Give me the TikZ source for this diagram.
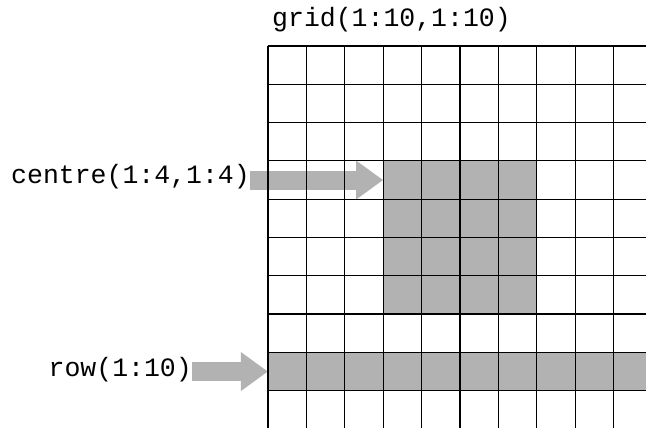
\documentclass[tikz,border=0pt]{standalone}
\usepackage{fontspec}
\usepackage{xcolor}
\usepackage{tikz}
\usetikzlibrary{arrows.meta}
\newfontfamily\codefont{Liberation Mono}
\definecolor{shadegray}{gray}{0.70}

\begin{document}
\begin{tikzpicture}[x=38.4bp,y=-38.3bp,
  gridline/.style={line width=1.2bp,black},
  cellfill/.style={fill=shadegray},
  codelabel/.style={inner sep=0pt,font=\codefont\fontsize{26.5bp}{30bp}\selectfont},
  blockarrow/.style={draw=shadegray,line width=19bp,-{Triangle[length=27bp,width=37bp]}}]
  \useasboundingbox (-6.979,-1.201) rectangle (9.844,9.974);
  % shaded selections
  \fill[cellfill] (3,3) rectangle (7,7);
  \fill[cellfill] (0,8) rectangle (9.844,9);
  % labels
  \node[codelabel,anchor=base] (gridLabel) at (3.216,-0.522) {grid(1:10,1:10)};
  \node[codelabel,anchor=base east] (centreLabel) at (-0.469,3.603) {centre(1:4,1:4)};
  \node[codelabel,anchor=base east] (rowLabel) at (-1.979,8.642) {row(1:10)};
  \coordinate (centreTip) at (3,3.5);
  \coordinate (rowTip) at (0,8.5);
  \draw[blockarrow] (centreLabel.east |- centreTip) -- (centreTip);
  \draw[blockarrow] (rowLabel.east |- rowTip) -- (rowTip);
  % grid lines
  \foreach \i in {0,...,9}{
    \draw[gridline] (\i,0) -- (\i,9.974);
    \draw[gridline] (0,\i) -- (9.844,\i);
  }
\end{tikzpicture}
\end{document}
